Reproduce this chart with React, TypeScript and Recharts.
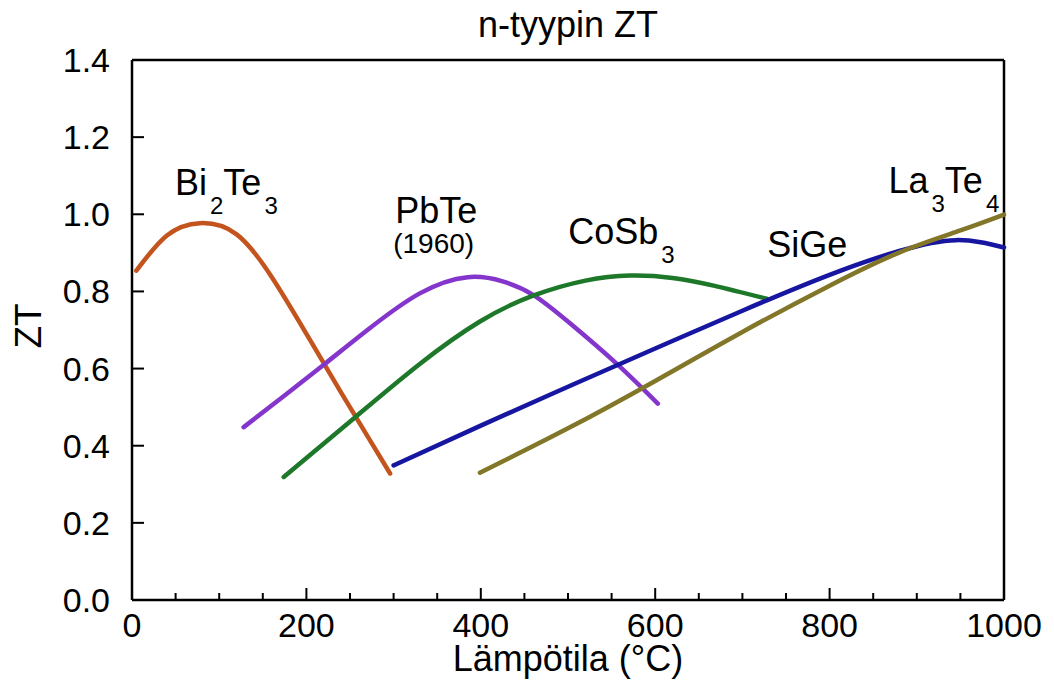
import React from 'react';
import { LineChart, Line, XAxis, YAxis, ReferenceLine, ReferenceDot } from 'recharts';

const xTicks = [0, 50, 100, 150, 200, 250, 300, 350, 400, 450, 500, 550, 600, 650, 700, 750, 800, 850, 900, 950, 1000];
const yTicks = [0, 0.2, 0.4, 0.6, 0.8, 1.0, 1.2, 1.4];

const bi2te3T = [5, 40, 78, 120, 160, 200, 240, 270, 296];
const bi2te3ZT = [0.854, 0.945, 0.977, 0.948, 0.838, 0.69, 0.537, 0.425, 0.328];

const pbteT = [128, 175, 221, 270, 330, 385, 425, 460, 503, 556, 603];
const pbteZT = [0.448, 0.53, 0.612, 0.7, 0.795, 0.837, 0.826, 0.791, 0.716, 0.612, 0.509];

const cosb3T = [174, 256, 330, 399, 460, 520, 571, 620, 667, 728];
const cosb3ZT = [0.319, 0.474, 0.612, 0.722, 0.789, 0.828, 0.841, 0.835, 0.815, 0.781];

const sigeT = [300, 400, 500, 600, 700, 800, 880, 945, 1000];
const sigeZT = [0.349, 0.452, 0.553, 0.652, 0.75, 0.843, 0.905, 0.933, 0.914];

const la3te4T = [399, 500, 600, 700, 800, 881, 950, 1000];
const la3te4ZT = [0.33, 0.445, 0.568, 0.695, 0.815, 0.902, 0.958, 0.999];

const toData = (t: number[], z: number[]) => t.map((v, i) => ({ t: v, zt: z[i] }));

const FONT = '"Liberation Sans", Arial, sans-serif';

const XTick = (props: any) => {
  const { x, y, payload } = props;
  const v = payload.value;
  const major = v % 200 === 0;
  return (
    <g>
      <line x1={x} x2={x} y1={y} y2={y - (major ? 12 : 7)} stroke="#000" strokeWidth={2} />
      {major && (
        <text x={x} y={y + 37} textAnchor="middle" fontSize={34} fontFamily={FONT} fill="#000">
          {v}
        </text>
      )}
    </g>
  );
};

const YTick = (props: any) => {
  const { x, y, payload } = props;
  return (
    <g>
      <line x1={x} x2={x + 12} y1={y} y2={y} stroke="#000" strokeWidth={2} />
      <text x={x - 22} y={y + 12} textAnchor="end" fontSize={34} fontFamily={FONT} fill="#000">
        {Number(payload.value).toFixed(1)}
      </text>
    </g>
  );
};

type Part = { s: string; sub?: boolean };

const makeLabel = (parts: Part[], extra?: string) => (props: any) => {
  const { viewBox } = props;
  const x = viewBox.x;
  const y = viewBox.y;
  let prevSub = false;
  return (
    <g>
      <text x={x} y={y} fontSize={36} fontFamily={FONT} fill="#000">
        {parts.map((p, i) => {
          let dy = 0;
          if (p.sub && !prevSub) dy = 19;
          if (!p.sub && prevSub) dy = -19;
          prevSub = !!p.sub;
          return (
            <tspan key={i} dy={dy} fontSize={p.sub ? 24 : 36} dx={p.sub ? 3 : 0}>
              {p.s}
            </tspan>
          );
        })}
      </text>
      {extra && (
        <text x={x - 2} y={y + 30} fontSize={28} fontFamily={FONT} fill="#000">
          {extra}
        </text>
      )}
    </g>
  );
};

const TitleLabel = (props: any) => {
  const { viewBox } = props;
  return (
    <text x={viewBox.x + viewBox.width / 2} y={viewBox.y - 23} textAnchor="middle" fontSize={36} fontFamily={FONT} fill="#000">
      n-tyypin ZT
    </text>
  );
};

const XLabel = (props: any) => {
  const { viewBox } = props;
  return (
    <text x={viewBox.x + viewBox.width / 2} y={viewBox.y + 71} textAnchor="middle" fontSize={36} fontFamily={FONT} fill="#000">
      Lämpötila (°C)
    </text>
  );
};

const YLabel = (props: any) => {
  const { viewBox } = props;
  const cx = viewBox.x + 28;
  const cy = viewBox.y + viewBox.height / 2 - 4;
  return (
    <text x={cx} y={cy} textAnchor="middle" dominantBaseline="central" fontSize={37} fontFamily={FONT} fill="#000" transform={`rotate(-90 ${cx} ${cy})`}>
      ZT
    </text>
  );
};

const series = [
  { name: 'Bi2Te3', data: toData(bi2te3T, bi2te3ZT), color: '#C4541E' },
  { name: 'PbTe', data: toData(pbteT, pbteZT), color: '#8436CC' },
  { name: 'CoSb3', data: toData(cosb3T, cosb3ZT), color: '#1E782A' },
  { name: 'SiGe', data: toData(sigeT, sigeZT), color: '#1616A0' },
  { name: 'La3Te4', data: toData(la3te4T, la3te4ZT), color: '#827629' },
];

export default function App() {
  return (
    <div style={{ position: 'absolute', left: 0, top: 0, width: 1054, height: 695, background: '#fff' }}>
      <LineChart width={1054} height={695} margin={{ top: 60, right: 50, bottom: 0, left: 0 }}>
        <XAxis
          dataKey="t"
          type="number"
          domain={[0, 1000]}
          ticks={xTicks}
          interval={0}
          allowDuplicatedCategory={false}
          height={95}
          tickSize={0}
          tickMargin={0}
          tick={<XTick />}
          axisLine={{ stroke: '#000', strokeWidth: 2.5 }}
          tickLine={false}
          label={<XLabel />}
        />
        <YAxis
          type="number"
          domain={[0, 1.4]}
          ticks={yTicks}
          interval={0}
          width={132}
          tickSize={0}
          tickMargin={0}
          tick={<YTick />}
          axisLine={{ stroke: '#000', strokeWidth: 2.5 }}
          tickLine={false}
          label={<YLabel />}
        />
        <ReferenceLine y={1.4} stroke="#000" strokeWidth={2.5} label={<TitleLabel />} />
        <ReferenceLine x={1000} stroke="#000" strokeWidth={2.5} />
        {series.map((s) => (
          <Line
            key={s.name}
            data={s.data}
            dataKey="zt"
            type="natural"
            stroke={s.color}
            strokeWidth={4.5}
            strokeLinecap="round"
            dot={false}
            isAnimationActive={false}
          />
        ))}
        <ReferenceDot x={49.3} y={1.05} r={0} fill="none" stroke="none" label={makeLabel([{ s: 'Bi' }, { s: '2', sub: true }, { s: 'Te' }, { s: '3', sub: true }])} />
        <ReferenceDot x={301.8} y={0.978} r={0} fill="none" stroke="none" label={makeLabel([{ s: 'PbTe' }], '(1960)')} />
        <ReferenceDot x={500.3} y={0.924} r={0} fill="none" stroke="none" label={makeLabel([{ s: 'CoSb' }, { s: '3', sub: true }])} />
        <ReferenceDot x={728.6} y={0.89} r={0} fill="none" stroke="none" label={makeLabel([{ s: 'SiGe' }])} />
        <ReferenceDot x={867.5} y={1.056} r={0} fill="none" stroke="none" label={makeLabel([{ s: 'La' }, { s: '3', sub: true }, { s: 'Te' }, { s: '4', sub: true }])} />
      </LineChart>
    </div>
  );
}
